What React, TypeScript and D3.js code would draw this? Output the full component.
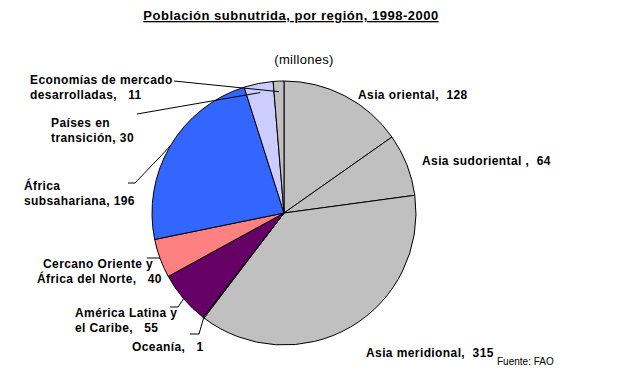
import React from "react";
import * as d3 from "d3";

const regions = [
  "Asia oriental",
  "Asia sudoriental",
  "Asia meridional",
  "Oceanía",
  "América Latina y el Caribe",
  "Cercano Oriente y África del Norte",
  "África subsahariana",
  "Países en transición",
  "Economías de mercado desarrolladas",
];
const values = [128, 64, 315, 1, 55, 40, 196, 30, 11];
const colors = ["#C0C0C0", "#C0C0C0", "#C0C0C0", "#CCFFFF", "#660066", "#FF8080", "#3366FF", "#CCCCFF", "#C0C0C0"];

const labelLines = [
  ["Asia oriental,\u00A0\u00A0128"],
  ["Asia sudoriental ,\u00A0\u00A064"],
  ["Asia meridional,\u00A0\u00A0315"],
  ["Oceanía,\u00A0\u00A0\u00A01"],
  ["América Latina y", "el Caribe,\u00A0\u00A0\u00A055"],
  ["Cercano Oriente y", "África del Norte,\u00A0\u00A0\u00A040"],
  ["África", "subsahariana, 196"],
  ["Países en", "transición, 30"],
  ["Economías de mercado", "desarrolladas,\u00A0\u00A0\u00A011"],
];

// layout (label anchor, leader path start points, leader radius factor)
const labelPos: [number, number][] = [
  [358, 99], [422, 165], [366, 357], [132, 351], [75, 317], [43, 268], [24, 190], [51, 127], [30, 84],
];
const leaderStart: ([number, number][] | null)[] = [
  null, null, null,
  [[190, 334], [199, 334]],
  [[170, 307], [178, 307]],
  [[147, 258], [159, 258]],
  [[128, 183], [135, 183]],
  [[137, 114]],
  [[174, 81]],
];
const leaderR = [0, 0, 0, 1.0, 1.0, 1.0, 1.0, 0.93, 0.92];

export default function App() {
  const W = 641, H = 378;
  const cx = 284, cy = 213, r = 132;
  const pie = d3.pie<number>().sort(null).value((d) => d)(values);
  const arc = d3.arc<d3.PieArcDatum<number>>().innerRadius(0).outerRadius(r);
  const font = "'Liberation Sans', Arial, sans-serif";
  return (
    <svg width={W} height={H} style={{ position: "absolute", left: 0, top: 0, background: "#fff" }}>
      <text x={291} y={20} textAnchor="middle" fontFamily={font} fontSize={13} letterSpacing={0.5} fontWeight="bold" textDecoration="underline">
        Población subnutrida, por región, 1998-2000
      </text>
      <text x={304} y={64} textAnchor="middle" fontFamily={font} fontSize={13} letterSpacing={0.3}>(millones)</text>
      <g transform={`translate(${cx},${cy})`}>
        {pie.map((p, i) => (
          <path key={regions[i]} d={arc(p) || ""} fill={colors[i]} stroke="#000" strokeWidth={1} />
        ))}
      </g>
      {pie.map((p, i) => {
        const st = leaderStart[i];
        if (!st) return null;
        const a = (p.startAngle + p.endAngle) / 2;
        const rr = r * leaderR[i];
        const end: [number, number] = [cx + rr * Math.sin(a), cy - rr * Math.cos(a)];
        const pts = [...st, end];
        return (
          <polyline key={"l" + i} points={pts.map((q) => q.join(",")).join(" ")} fill="none" stroke="#000" strokeWidth={1} />
        );
      })}
      {labelLines.map((lines, i) => (
        <text key={"t" + i} x={labelPos[i][0]} y={labelPos[i][1]} fontFamily={font} fontSize={12} letterSpacing={0.4} fontWeight="bold">
          {lines.map((s, j) => (
            <tspan key={j} x={labelPos[i][0] - (i === 5 && j === 1 ? 6 : 0)} dy={j === 0 ? 0 : 15}>{s}</tspan>
          ))}
        </text>
      ))}
      <text x={497} y={365} fontFamily={font} fontSize={10}>Fuente: FAO</text>
    </svg>
  );
}
